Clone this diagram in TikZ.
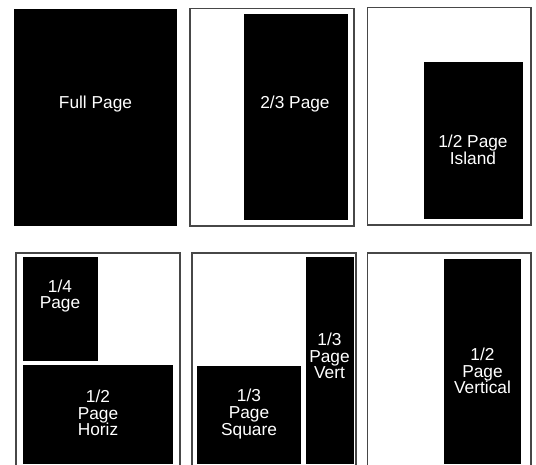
\documentclass[tikz,border=0pt]{standalone}
\usepackage{fontspec}
\setmainfont{Liberation Sans}
\begin{document}
\begin{tikzpicture}[x=1pt,y=-1pt,
  pageframe/.style={draw=black!72,line width=1.3pt,fill=white},
  blk/.style={fill=black},
  lbl/.style={text=white,align=center,inner sep=0pt,font=\fontsize{17.3}{16.8}\selectfont}]
\useasboundingbox (0,0) rectangle (536,464);
\clip (0,0) rectangle (536,464);
% frames
\draw[pageframe] (190,8.5) rectangle (354,226);
\draw[pageframe] (367.5,7.5) rectangle (531,225);
\draw[pageframe] (16,253) rectangle (180,475);
\draw[pageframe] (192,253) rectangle (356,475);
\draw[pageframe] (367.5,253) rectangle (531,475);
% black areas
\fill[blk] (14,9) rectangle (177,226);
\fill[blk] (243.5,13.5) rectangle (347.5,220);
\fill[blk] (423.5,62) rectangle (523,218.5);
\fill[blk] (23,257) rectangle (98,361);
\fill[blk] (23,365) rectangle (173,463.5);
\fill[blk] (197,366) rectangle (300.5,463.5);
\fill[blk] (305.5,257) rectangle (353.5,463.5);
\fill[blk] (444,259) rectangle (521,463.5);
% labels
\node[lbl] (full) at (95.5,104) {Full Page};
\node[lbl] (twothird) at (295,104) {2/3 Page};
\node[lbl] (island) at (473,150) {1/2 Page\\Island};
\node[lbl] (quarter) at (60,296) {1/4\\Page};
\node[lbl] (horiz) at (98,413) {1/2\\Page\\Horiz};
\node[lbl] (square) at (249,414) {1/3\\Page\\Square};
\node[lbl] (vert) at (329.5,356) {1/3\\Page\\Vert};
\node[lbl] (vertical) at (482.5,371) {1/2\\Page\\Vertical};
\end{tikzpicture}
\end{document}
